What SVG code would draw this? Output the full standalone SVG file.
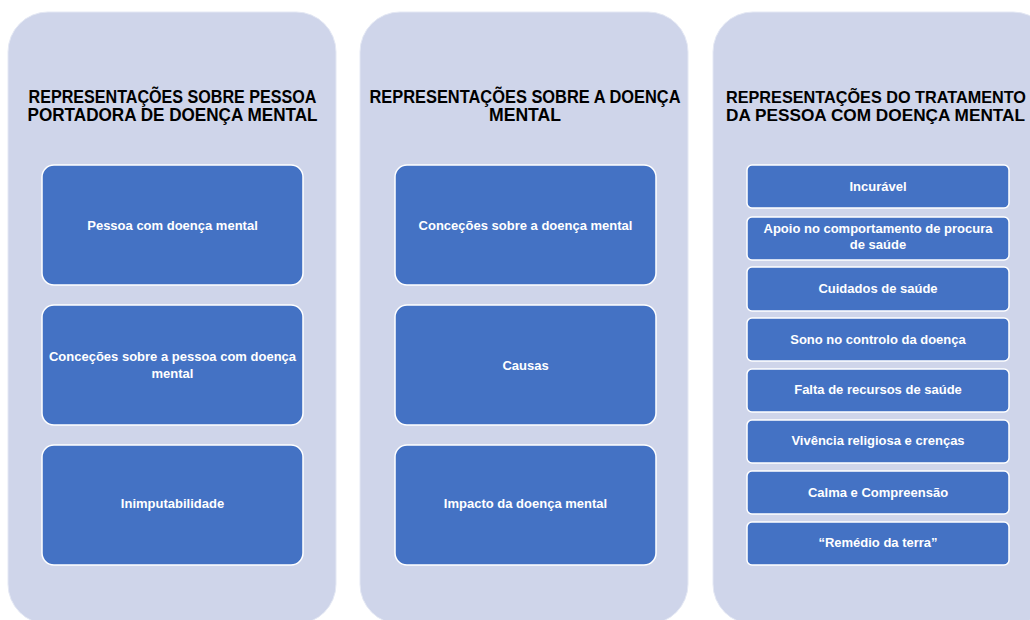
<svg xmlns="http://www.w3.org/2000/svg" width="1030" height="620" viewBox="0 0 1030 620">
<style>
.panel{fill:#cfd5ea;stroke:#e4e8f4;stroke-width:1}
.box{fill:#4472c4;stroke:#ffffff;stroke-width:1.5}
.title{font-family:"Liberation Sans",Arial,sans-serif;font-weight:bold;font-size:18px;fill:#000;text-anchor:middle}
.t3{font-size:16.5px}
.lbl{font-family:"Liberation Sans",Arial,sans-serif;font-weight:bold;font-size:13px;fill:#ffffff;text-anchor:middle}
</style>
<rect width="1030" height="620" fill="#ffffff"/>
<g id="panel1">
<rect class="panel" x="8" y="12" width="328" height="612" rx="40"/>
<text class="title" x="172.5" y="103" textLength="288" lengthAdjust="spacingAndGlyphs">REPRESENTAÇÕES SOBRE PESSOA</text>
<text class="title" x="172.5" y="121" textLength="290" lengthAdjust="spacingAndGlyphs">PORTADORA DE DOENÇA MENTAL</text>
</g>
<g id="panel2">
<rect class="panel" x="360" y="12" width="328" height="612" rx="40"/>
<text class="title" x="525" y="103" textLength="311" lengthAdjust="spacingAndGlyphs">REPRESENTAÇÕES SOBRE A DOENÇA</text>
<text class="title" x="525" y="121" textLength="72" lengthAdjust="spacingAndGlyphs">MENTAL</text>
</g>
<g id="panel3">
<rect class="panel" x="713" y="12" width="340" height="612" rx="40"/>
<text class="title t3" x="876" y="103" textLength="300" lengthAdjust="spacingAndGlyphs">REPRESENTAÇÕES DO TRATAMENTO</text>
<text class="title t3" x="875.5" y="121" textLength="299" lengthAdjust="spacingAndGlyphs">DA PESSOA COM DOENÇA MENTAL</text>
</g>
<g id="connectors"></g>
<g id="n1a"><rect class="box" x="42" y="165" width="261" height="120" rx="12"/><text class="lbl" x="172.5" y="230">Pessoa com doença mental</text></g>
<g id="n1b"><rect class="box" x="42" y="305" width="261" height="120" rx="12"/><text class="lbl" x="172.5" y="361">Conceções sobre a pessoa com doença</text><text class="lbl" x="172.5" y="378">mental</text></g>
<g id="n1c"><rect class="box" x="42" y="445" width="261" height="120" rx="12"/><text class="lbl" x="172.5" y="508">Inimputabilidade</text></g>
<g id="n2a"><rect class="box" x="395" y="165" width="261" height="120" rx="12"/><text class="lbl" x="525.5" y="230">Conceções sobre a doença mental</text></g>
<g id="n2b"><rect class="box" x="395" y="305" width="261" height="120" rx="12"/><text class="lbl" x="525.5" y="370">Causas</text></g>
<g id="n2c"><rect class="box" x="395" y="445" width="261" height="120" rx="12"/><text class="lbl" x="525.5" y="508">Impacto da doença mental</text></g>
<g id="n3a"><rect class="box" x="747" y="165" width="262" height="43" rx="5"/><text class="lbl" x="878" y="191">Incurável</text></g>
<g id="n3b"><rect class="box" x="747" y="217" width="262" height="43" rx="5"/><text class="lbl" x="878" y="233">Apoio no comportamento de procura</text><text class="lbl" x="878" y="249">de saúde</text></g>
<g id="n3c"><rect class="box" x="747" y="267" width="262" height="44" rx="5"/><text class="lbl" x="878" y="293">Cuidados de saúde</text></g>
<g id="n3d"><rect class="box" x="747" y="318" width="262" height="43" rx="5"/><text class="lbl" x="878" y="344">Sono no controlo da doença</text></g>
<g id="n3e"><rect class="box" x="747" y="369" width="262" height="43" rx="5"/><text class="lbl" x="878" y="394">Falta de recursos de saúde</text></g>
<g id="n3f"><rect class="box" x="747" y="420" width="262" height="43" rx="5"/><text class="lbl" x="878" y="445">Vivência religiosa e crenças</text></g>
<g id="n3g"><rect class="box" x="747" y="471" width="262" height="43" rx="5"/><text class="lbl" x="878" y="497">Calma e Compreensão</text></g>
<g id="n3h"><rect class="box" x="747" y="522" width="262" height="43" rx="5"/><text class="lbl" x="878" y="547">“Remédio da terra”</text></g>
</svg>
